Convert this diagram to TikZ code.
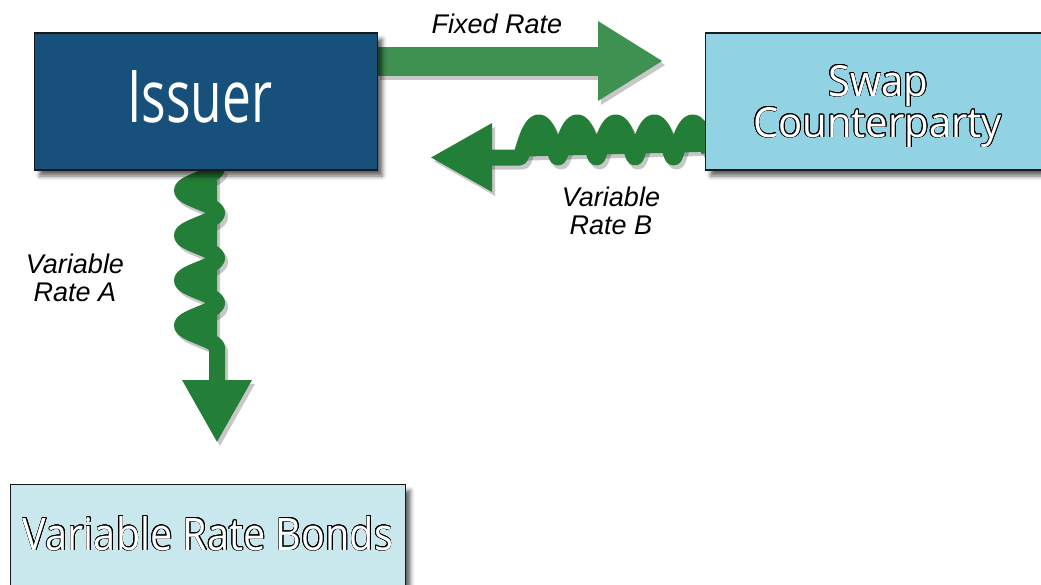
\documentclass[tikz,border=0pt]{standalone}
\usepackage{fontspec}
\setmainfont{Liberation Sans}
\newfontfamily\boxfont{Open Sans}
\usepackage[copies]{contour}
\contourlength{0.9pt}
\usetikzlibrary{arrows.meta,shadows.blur}
\definecolor{issuerblue}{HTML}{17507B}
\definecolor{swapblue}{HTML}{92D3E3}
\definecolor{bondblue}{HTML}{C9E8EE}
\definecolor{fixgreen}{HTML}{3F9152}
\definecolor{wavegreen}{HTML}{237E37}
\newcommand\outlined[1]{\color{white}\contour{black}{#1}}
\newcommand\drawflows[2]{%
  \draw[fixarrow,#1] (fS) -- (fE);
  \begin{scope}[shift={(aO)}]
    \draw[wavepath,#2,-{Triangle[length=63pt,width=65pt]}]
      plot[domain=0:180,samples=181,smooth] ({-17.5+17.5*cos(8*\x)},{\x}) -- (aE);
  \end{scope}
  \begin{scope}[shift={(bO)}]
    \draw[wavepath,#2,-{Triangle[length=62pt,width=64pt]}]
      plot[domain=0:1752,samples=301,smooth]
        ({0.106944*(1752-\x)-3*sin(1752-\x)},{17.5*cos(1752-\x)}) -- (bE);
  \end{scope}}
\begin{document}
\begin{tikzpicture}[x=1pt,y=-1pt,
  box/.style={draw=black!90, line width=1.5pt, inner sep=0pt,
    blur shadow={shadow xshift=5pt, shadow yshift=-6pt, shadow blur radius=4pt, shadow opacity=60}},
  fixarrow/.style={line width=29pt, -{Triangle[length=65pt,width=75pt]}},
  wavepath/.style={line width=16pt, line join=round},
  shadowpass/.style={draw=black, fill=black, opacity=0.22},
  lbl/.style={font=\fontsize{27}{28}\selectfont\itshape, inner sep=0pt, align=center},
  boxtxt/.style={anchor=base, inner sep=0pt}
]
\useasboundingbox (0,0) rectangle (1041,584);

% named anchor points for connectors
\coordinate (fS) at (377,61);
\coordinate (fE) at (663,61);
\coordinate (aO) at (217,168);
\coordinate (aE) at (217,443);
\coordinate (bO) at (519.5,140);
\coordinate (bE) at (430,157.5);

% arrow shadows
\begin{scope}[transform canvas={shift={(3pt,-4pt)}}]
  \drawflows{shadowpass}{shadowpass}
\end{scope}
% arrows
\drawflows{draw=fixgreen,fill=fixgreen}{draw=wavegreen,fill=wavegreen}

% boxes
\node[box, fill=issuerblue, minimum width=343pt, minimum height=137pt] (issuer) at (206,101.5) {};
\node[box, fill=swapblue, minimum width=343pt, minimum height=137pt] (swap) at (877,101.5) {};
\node[box, fill=bondblue, minimum width=395pt, minimum height=102pt] (bonds) at (208,535.5) {};

% box texts
\node[boxtxt] (issuerTxt) at (200,122) {\color{white}\resizebox{145pt}{52pt}{\boxfont\fontsize{70}{70}\selectfont Issuer}};
\node[boxtxt] (swapTxtA) at (878,96) {\resizebox{100pt}{31pt}{\boxfont\fontsize{42}{42}\selectfont\outlined{Swap}}};
\node[boxtxt] (swapTxtB) at (877.5,137) {\resizebox{249pt}{30pt}{\boxfont\fontsize{42}{42}\selectfont\outlined{Counterparty}}};
\node[boxtxt] (bondsTxt) at (208,550) {\resizebox{370pt}{34pt}{\boxfont\fontsize{45}{45}\selectfont\outlined{Variable Rate Bonds}}};

% labels
\node[lbl] (fixedLbl) at (497,24) {Fixed Rate};
\node[lbl] (varB) at (611,211) {Variable\\Rate B};
\node[lbl] (varA) at (75,278) {Variable\\Rate A};
\end{tikzpicture}
\end{document}
